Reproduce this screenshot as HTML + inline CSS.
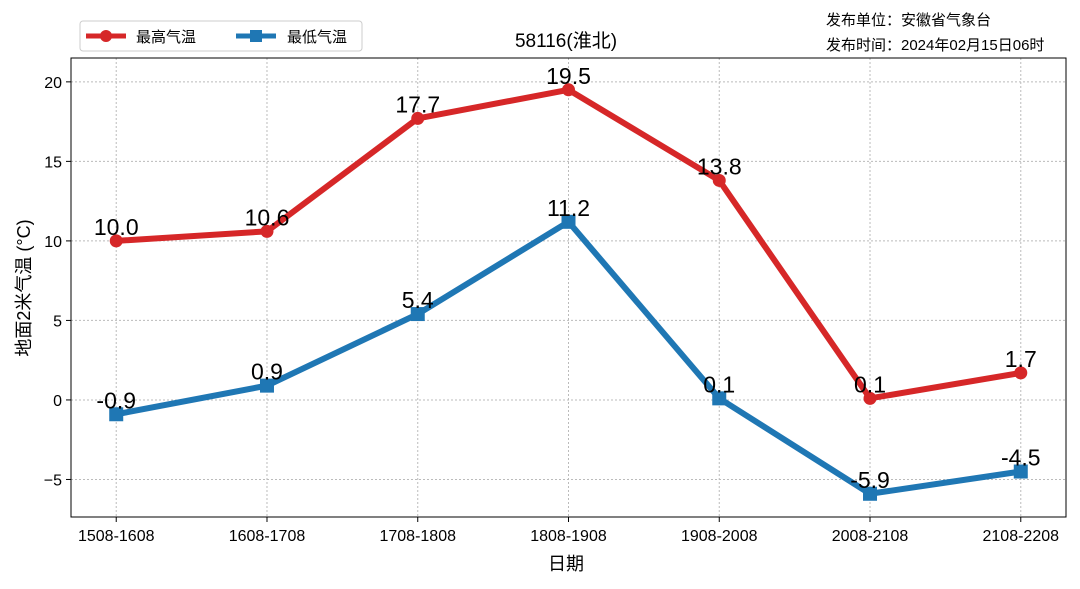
<!DOCTYPE html>
<html><head><meta charset="utf-8"><style>
body{margin:0;background:#fff;}
svg text{font-family:"Liberation Sans","Noto Sans CJK SC",sans-serif;}
</style></head><body>
<svg id="c" width="1080" height="584" xmlns="http://www.w3.org/2000/svg">
<rect width="1080" height="584" fill="#fff"/>
<g id="grid"></g>
<g id="axes"></g>
<g id="series"></g>
<text x="566" y="47" font-size="19" text-anchor="middle">58116(淮北)</text>
<text x="826" y="25" font-size="15">发布单位：安徽省气象台</text>
<text x="826" y="50" font-size="15">发布时间：2024年02月15日06时</text>
<text x="566" y="570" font-size="18" text-anchor="middle">日期</text>
<text transform="translate(30,288) rotate(-90)" font-size="18" text-anchor="middle">地面2米气温 (°C)</text>
<g>
<rect x="80" y="21" width="282" height="30" fill="#fff" stroke="#ccc" rx="3"/>
<g>
<line x1="86" y1="36" x2="126" y2="36" stroke="#d62728" stroke-width="5"/>
<circle cx="106" cy="36" r="6" fill="#d62728"/>
<text x="136" y="42" font-size="15">最高气温</text></g>
<g>
<line x1="236" y1="36" x2="276" y2="36" stroke="#1f77b4" stroke-width="5"/>
<rect x="250" y="30" width="12" height="12" fill="#1f77b4"/>
<text x="287" y="42" font-size="15">最低气温</text></g>
</g>
</svg>
<script>
const categories=["1508-1608","1608-1708","1708-1808","1808-1908","1908-2008","2008-2108","2108-2208"];
const highValues=[10.0,10.6,17.7,19.5,13.8,0.1,1.7];
const lowValues=[-0.9,0.9,5.4,11.2,0.1,-5.9,-4.5];
const yTicks=[-5,0,5,10,15,20];
const L=71,R=1066,T=58,B=517;
const xMin=-0.3,xMax=6.3,yMin=-7.36,yMax=21.5;
const xs=i=>L+(i-xMin)/(xMax-xMin)*(R-L);
const ys=v=>B-(v-yMin)/(yMax-yMin)*(B-T);
const NS="http://www.w3.org/2000/svg";
function mk(p,t,a){const e=document.createElementNS(NS,t);for(const k in a)e.setAttribute(k,a[k]);p.appendChild(e);return e;}
const grid=document.getElementById('grid'),axes=document.getElementById('axes'),ser=document.getElementById('series');
categories.forEach((c,i)=>{
 const x=xs(i);
 const g=mk(grid,'line',{x1:x,x2:x,y1:T,y2:B,stroke:'#bbb','stroke-dasharray':'2,2','stroke-width':1});
 
 mk(axes,'line',{x1:x,x2:x,y1:B,y2:B+5,stroke:'#000'});
 const t=mk(axes,'text',{x:x,y:B+24,'font-size':16,'text-anchor':'middle'});t.textContent=c;
 
});
yTicks.forEach(v=>{
 const y=ys(v);
 const g=mk(grid,'line',{x1:L,x2:R,y1:y,y2:y,stroke:'#bbb','stroke-dasharray':'2,2','stroke-width':1});
 
 mk(axes,'line',{x1:L-5,x2:L,y1:y,y2:y,stroke:'#000'});
 const t=mk(axes,'text',{x:L-9,y:y+6,'font-size':16,'text-anchor':'end'});t.textContent=v<0?'\u2212'+(-v):v;
 
});
const fr=mk(axes,'rect',{x:L,y:T,width:R-L,height:B-T,fill:'none',stroke:'#000','stroke-width':1});

function draw(vals,color,marker,name){
 const pl=mk(ser,'polyline',{points:vals.map((v,i)=>xs(i)+','+ys(v)).join(' '),fill:'none',stroke:color,'stroke-width':6,'stroke-linejoin':'round'});
 
 vals.forEach((v,i)=>{
  const x=xs(i),y=ys(v);let m;
  if(marker==='c')m=mk(ser,'circle',{cx:x,cy:y,r:6.5,fill:color});
  else m=mk(ser,'rect',{x:x-7,y:y-7,width:14,height:14,fill:color});
  
  const t=mk(ser,'text',{x:x,y:y-6,'font-size':23,'text-anchor':'middle','font-family':'Liberation Mono,monospace'});
  t.textContent=v.toFixed(1);
  
 });
}
draw(highValues,'#d62728','c','high-temp');
draw(lowValues,'#1f77b4','s','low-temp');
</script>
</body></html>
